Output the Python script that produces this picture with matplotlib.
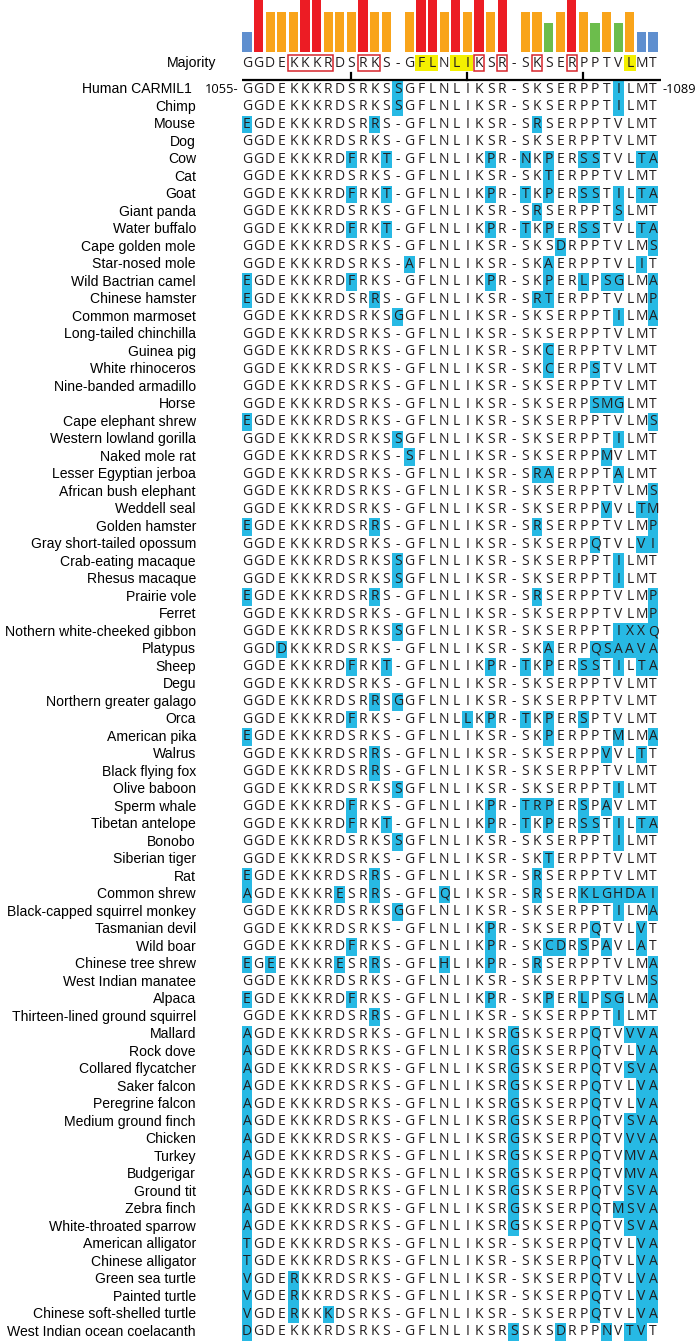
import matplotlib.pyplot as plt
from matplotlib.patches import Rectangle

# Secuencia consenso y grado de conservacion por columna
majority = "GGDEKKKRDSRKS-GFLNLIKSR-SKSERPPTVLMT"
conservation = [38, 100, 77, 77, 77, 100, 100, 77, 77, 77, 100, 77, 77, 0,
                77, 100, 100, 77, 100, 77, 100, 77, 100, 0,
                77, 77, 56, 77, 100, 77, 56, 77, 56, 77, 38, 38]
boxed_cols = [(5, 8), (11, 12), (21, 21), (23, 23), (26, 26), (29, 29)]
yellow_cols = [(16, 17), (19, 20), (34, 34)]
tick_cols = [10, 20, 30]
start_pos = 1055
end_pos = 1089

species = [
    "Human CARMIL1", "Chimp", "Mouse", "Dog", "Cow", "Cat", "Goat", "Giant panda",
    "Water buffalo", "Cape golden mole", "Star-nosed mole", "Wild Bactrian camel",
    "Chinese hamster", "Common marmoset", "Long-tailed chinchilla", "Guinea pig",
    "White rhinoceros", "Nine-banded armadillo", "Horse", "Cape elephant shrew",
    "Western lowland gorilla", "Naked mole rat", "Lesser Egyptian jerboa",
    "African bush elephant", "Weddell seal", "Golden hamster",
    "Gray short-tailed opossum", "Crab-eating macaque", "Rhesus macaque",
    "Prairie vole", "Ferret", "Nothern white-cheeked gibbon", "Platypus", "Sheep",
    "Degu", "Northern greater galago", "Orca", "American pika", "Walrus",
    "Black flying fox", "Olive baboon", "Sperm whale", "Tibetan antelope", "Bonobo",
    "Siberian tiger", "Rat", "Common shrew", "Black-capped squirrel monkey",
    "Tasmanian devil", "Wild boar", "Chinese tree shrew", "West Indian manatee",
    "Alpaca", "Thirteen-lined ground squirrel", "Mallard", "Rock dove",
    "Collared flycatcher", "Saker falcon", "Peregrine falcon", "Medium ground finch",
    "Chicken", "Turkey", "Budgerigar", "Ground tit", "Zebra finch",
    "White-throated sparrow", "American alligator", "Chinese alligator",
    "Green sea turtle", "Painted turtle", "Chinese soft-shelled turtle",
    "West Indian ocean coelacanth",
]

sequences = [
    "GGDEKKKRDSRKSSGFLNLIKSR-SKSERPPTILMT",  # Human CARMIL1
    "GGDEKKKRDSRKSSGFLNLIKSR-SKSERPPTILMT",  # Chimp
    "EGDEKKKRDSRRS-GFLNLIKSR-SRSERPPTVLMT",  # Mouse
    "GGDEKKKRDSRKS-GFLNLIKSR-SKSERPPTVLMT",  # Dog
    "GGDEKKKRDFRKT-GFLNLIKPR-NKPERSSTVLTA",  # Cow
    "GGDEKKKRDSRKS-GFLNLIKSR-SKTERPPTVLMT",  # Cat
    "GGDEKKKRDFRKT-GFLNLIKPR-TKPERSSTILTA",  # Goat
    "GGDEKKKRDSRKS-GFLNLIKSR-SRSERPPTSLMT",  # Giant panda
    "GGDEKKKRDFRKT-GFLNLIKPR-TKPERSSTVLTA",  # Water buffalo
    "GGDEKKKRDSRKS-GFLNLIKSR-SKSDRPPTVLMS",  # Cape golden mole
    "GGDEKKKRDSRKS-AFLNLIKSR-SKAERPPTVLIT",  # Star-nosed mole
    "EGDEKKKRDFRKS-GFLNLIKPR-SKPERLPSGLMA",  # Wild Bactrian camel
    "EGDEKKKRDSRRS-GFLNLIKSR-SRTERPPTVLMP",  # Chinese hamster
    "GGDEKKKRDSRKSGGFLNLIKSR-SKSERPPTILMA",  # Common marmoset
    "GGDEKKKRDSRKS-GFLNLIKSR-SKSERPPTVLMT",  # Long-tailed chinchilla
    "GGDEKKKRDSRKS-GFLNLIKSR-SKCERPPTVLMT",  # Guinea pig
    "GGDEKKKRDSRKS-GFLNLIKSR-SKCERPSTVLMT",  # White rhinoceros
    "GGDEKKKRDSRKS-GFLNLIKSR-SKSERPPTVLMT",  # Nine-banded armadillo
    "GGDEKKKRDSRKS-GFLNLIKSR-SKSERPSMGLMT",  # Horse
    "EGDEKKKRDSRKS-GFLNLIKSR-SKSERPPTVLMS",  # Cape elephant shrew
    "GGDEKKKRDSRKSSGFLNLIKSR-SKSERPPTILMT",  # Western lowland gorilla
    "GGDEKKKRDSRKS-SFLNLIKSR-SKSERPPMVLMT",  # Naked mole rat
    "GGDEKKKRDSRKS-GFLNLIKSR-SRAERPPTALMT",  # Lesser Egyptian jerboa
    "GGDEKKKRDSRKS-GFLNLIKSR-SKSERPPTVLMS",  # African bush elephant
    "GGDEKKKRDSRKS-GFLNLIKSR-SKSERPPVVLTM",  # Weddell seal
    "EGDEKKKRDSRRS-GFLNLIKSR-SRSERPPTVLMP",  # Golden hamster
    "GGDEKKKRDSRKS-GFLNLIKSR-SKSERPQTVLVI",  # Gray short-tailed opossum
    "GGDEKKKRDSRKSSGFLNLIKSR-SKSERPPTILMT",  # Crab-eating macaque
    "GGDEKKKRDSRKSSGFLNLIKSR-SKSERPPTILMT",  # Rhesus macaque
    "EGDEKKKRDSRRS-GFLNLIKSR-SRSERPPTVLMP",  # Prairie vole
    "GGDEKKKRDSRKS-GFLNLIKSR-SKSERPPTVLMP",  # Ferret
    "GGDEKKKRDSRKSSGFLNLIKSR-SKSERPPTIXXQ",  # Nothern white-cheeked gibbon
    "GGDDKKKRDSRKS-GFLNLIKSR-SKAERPQSAAVA",  # Platypus
    "GGDEKKKRDFRKT-GFLNLIKPR-TKPERSSTILTA",  # Sheep
    "GGDEKKKRDSRKS-GFLNLIKSR-SKSERPPTVLMT",  # Degu
    "GGDEKKKRDSRRSGGFLNLIKSR-SKSERPPTVLMT",  # Northern greater galago
    "GGDEKKKRDFRKS-GFLNLLKPR-TKPERSPTVLMT",  # Orca
    "EGDEKKKRDSRKS-GFLNLIKSR-SKPERPPTMLMA",  # American pika
    "GGDEKKKRDSRRS-GFLNLIKSR-SKSERPPVVLTT",  # Walrus
    "GGDEKKKRDSRRS-GFLNLIKSR-SKSERPPTVLMT",  # Black flying fox
    "GGDEKKKRDSRKSSGFLNLIKSR-SKSERPPTILMT",  # Olive baboon
    "GGDEKKKRDFRKS-GFLNLIKPR-TRPERSPAVLMT",  # Sperm whale
    "GGDEKKKRDFRKT-GFLNLIKPR-TKPERSSTILTA",  # Tibetan antelope
    "GGDEKKKRDSRKSSGFLNLIKSR-SKSERPPTILMT",  # Bonobo
    "GGDEKKKRDSRKS-GFLNLIKSR-SKTERPPTVLMT",  # Siberian tiger
    "EGDEKKKRDSRRS-GFLNLIKSR-SRSERPPTVLMT",  # Rat
    "AGDEKKKRESRRS-GFLQLIKSR-SRSERKLGHDAI",  # Common shrew
    "GGDEKKKRDSRKSGGFLNLIKSR-SKSERPPTILMA",  # Black-capped squirrel monkey
    "GGDEKKKRDSRKS-GFLNLIKPR-SKSERPQTVLVT",  # Tasmanian devil
    "GGDEKKKRDFRKS-GFLNLIKPR-SKCDRSPAVLAT",  # Wild boar
    "EGEEKKKRESRRS-GFLHLIKPR-SRSERPPTVLMA",  # Chinese tree shrew
    "GGDEKKKRDSRKS-GFLNLIKSR-SKSERPPTVLMS",  # West Indian manatee
    "EGDEKKKRDFRKS-GFLNLIKPR-SKPERLPSGLMA",  # Alpaca
    "GGDEKKKRDSRRS-GFLNLIKSR-SKSERPPTILMT",  # Thirteen-lined ground squirrel
    "AGDEKKKRDSRKS-GFLNLIKSRGSKSERPQTVVVA",  # Mallard
    "AGDEKKKRDSRKS-GFLNLIKSRGSKSERPQTVLVA",  # Rock dove
    "AGDEKKKRDSRKS-GFLNLIKSRGSKSERPQTVSVA",  # Collared flycatcher
    "AGDEKKKRDSRKS-GFLNLIKSRGSKSERPQTVLVA",  # Saker falcon
    "AGDEKKKRDSRKS-GFLNLIKSRGSKSERPQTVLVA",  # Peregrine falcon
    "AGDEKKKRDSRKS-GFLNLIKSRGSKSERPQTVSVA",  # Medium ground finch
    "AGDEKKKRDSRKS-GFLNLIKSRGSKSERPQTVVVA",  # Chicken
    "AGDEKKKRDSRKS-GFLNLIKSRGSKSERPQTVMVA",  # Turkey
    "AGDEKKKRDSRKS-GFLNLIKSRGSKSERPQTVMVA",  # Budgerigar
    "AGDEKKKRDSRKS-GFLNLIKSRGSKSERPQTVSVA",  # Ground tit
    "AGDEKKKRDSRKS-GFLNLIKSRGSKSERPQTMSVA",  # Zebra finch
    "AGDEKKKRDSRKS-GFLNLIKSRGSKSERPQTVSVA",  # White-throated sparrow
    "TGDEKKKRDSRKS-GFLNLIKSR-SKSERPQTVLVA",  # American alligator
    "TGDEKKKRDSRKS-GFLNLIKSR-SKSERPQTVLVA",  # Chinese alligator
    "VGDERKKRDSRKS-GFLNLIKSR-SKSERPQTVLVA",  # Green sea turtle
    "VGDERKKRDSRKS-GFLNLIKSR-SKSERPQTVLVA",  # Painted turtle
    "VGDERKKKDSRKS-GFLNLIKSR-SKSERPQTVLVA",  # Chinese soft-shelled turtle
    "DGDEKKKRDSRKS-GFLNLIKSRSSKSDRPPNVTVT",  # West Indian ocean coelacanth
]

# Colores
colores_barra = {100: '#ec1c24', 77: '#f9a41a', 56: '#6cbd4c', 38: '#5f8fcf'}
cian = '#27b9e4'
fuente_seq = 'Open Sans'
fuente_nom = 'Liberation Sans'

ncol = len(majority)
cols = list(range(1, ncol + 1))

fig = plt.figure(figsize=(7, 13.43), dpi=100)

# Alineamiento (x = columna, y = fila)
ax = fig.add_axes([0, 0, 1, 1])
ax.set_xlim(-20.29, 40.05)
ax.set_ylim(72.63, -4.114)
ax.axis('off')

y_maj = -0.51

# Resaltado de residuos distintos al consenso (bloques horizontales)
for i, seq in enumerate(sequences):
    fila = i + 1
    c = 0
    while c < ncol:
        if seq[c] != majority[c]:
            fin = c
            while fin + 1 < ncol and seq[fin + 1] != majority[fin + 1]:
                fin += 1
            ax.add_patch(Rectangle((c + 1 - 0.46, fila - 0.5), fin - c + 0.92, 1.0,
                                   facecolor=cian, edgecolor='none', zorder=1))
            c = fin + 1
        else:
            c += 1

# Letras de las secuencias y nombres
for i, (nom, seq) in enumerate(zip(species, sequences)):
    fila = i + 1
    x_nom = -3.75 if i == 0 else -3.4
    ax.text(x_nom, fila, nom, ha='right', va='center', fontsize=10.1,
            family=fuente_nom, zorder=3)
    for c, letra in zip(cols, seq):
        ax.text(c, fila, letra, ha='center', va='center', fontsize=10,
                family=fuente_seq, color='#231f20', zorder=3)

# Numeracion de la secuencia humana
ax.text(0.25, 1, f"{start_pos}-", ha='right', va='center', fontsize=9.3,
        family=fuente_seq, zorder=3)
ax.text(36.85, 1, f"-{end_pos}", ha='left', va='center', fontsize=9.3,
        family=fuente_seq, zorder=3)

# Fila consenso
ax.text(-1.67, y_maj, "Majority", ha='right', va='center', fontsize=10.1,
        family=fuente_nom)
for a, b in yellow_cols:
    ax.add_patch(Rectangle((a - 0.5, y_maj - 0.46), b - a + 1, 0.92,
                           facecolor='#f4f000', edgecolor='none', zorder=1))
for a, b in boxed_cols:
    ax.add_patch(Rectangle((a - 0.45, y_maj - 0.46), b - a + 0.9, 0.92,
                           facecolor='none', edgecolor='#d7262c', lw=1.1, zorder=4))
for c, letra in zip(cols, majority):
    ax.text(c, y_maj, letra, ha='center', va='center', fontsize=10,
            family=fuente_seq, color='#231f20', zorder=3)

# Regla con marcas cada 10 posiciones
y_regla = 0.457
ax.plot([0.55, 36.7], [y_regla, y_regla], color='black', lw=1.6, solid_capstyle='butt')
for c in tick_cols:
    ax.plot([c, c], [y_regla, y_regla - 0.4], color='black', lw=1.6)

# Barras de conservacion
axb = fig.add_axes([0, 1 - 52 / 1343, 1, 52 / 1343])
axb.set_xlim(-20.29, 40.05)
axb.set_ylim(0, 100)
axb.axis('off')
colores = [colores_barra.get(v, 'white') for v in conservation]
axb.bar(cols, conservation, width=0.8, color=colores)

plt.savefig('out.png', dpi=100)
